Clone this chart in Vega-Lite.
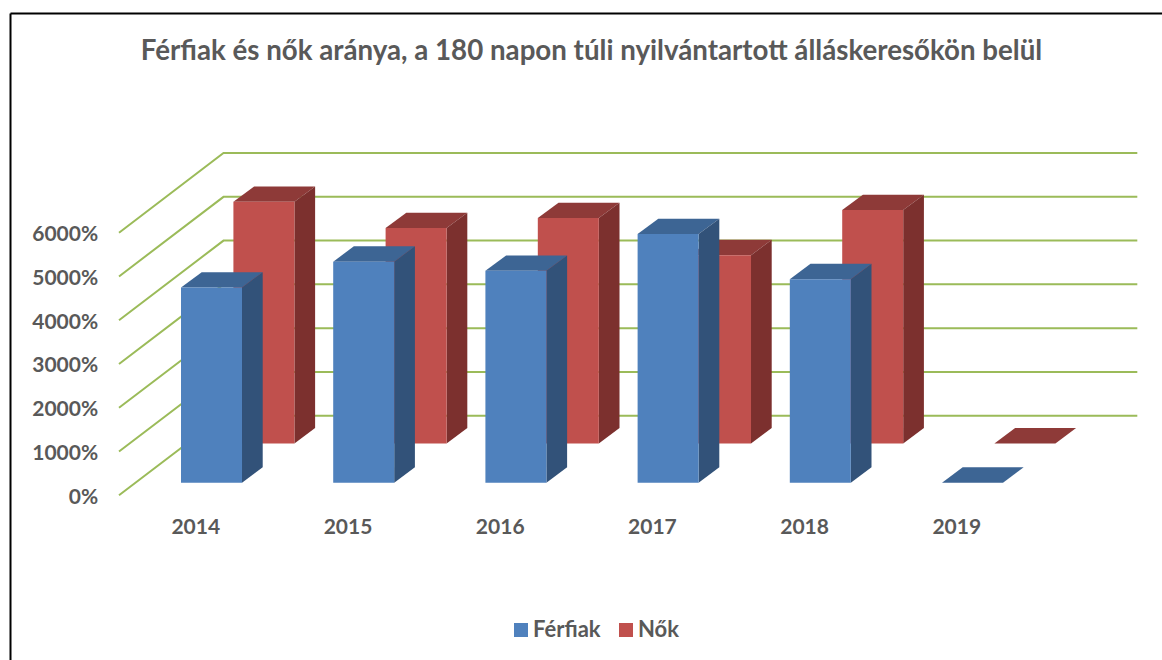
{
"$schema":"https://vega.github.io/schema/vega-lite/v6.json",
"width":1152,"height":647,
"autosize":{"type":"none"},
"padding":{"left":10,"top":13,"right":0,"bottom":0},
"background":"white",
"config":{"view":{"stroke":null},"font":"Lato"},
"title":{"text":"Férfiak és nők aránya, a 180 napon túli nyilvántartott álláskeresőkön belül","anchor":"middle","orient":"top","offset":-53,"dx":5.5,"font":"Lato","fontSize":27.7,"fontWeight":"bold","color":"#595959"},
"datasets":{
"bars":[
{"year":2014,"series":"Férfiak","value":4460},{"year":2015,"series":"Férfiak","value":5050},{"year":2016,"series":"Férfiak","value":4840},{"year":2017,"series":"Férfiak","value":5680},{"year":2018,"series":"Férfiak","value":4650},{"year":2019,"series":"Férfiak","value":0},
{"year":2014,"series":"Nők","value":5520},{"year":2015,"series":"Nők","value":4920},{"year":2016,"series":"Nők","value":5150},{"year":2017,"series":"Nők","value":4300},{"year":2018,"series":"Nők","value":5330},{"year":2019,"series":"Nők","value":0}
],
"grid":[{"level":0},{"level":1000},{"level":2000},{"level":3000},{"level":4000},{"level":5000},{"level":6000}]
},
"data":{"name":"bars"},
"transform":[
{"calculate":"datum.year+(datum.series==='Férfiak'?-0.1005:0.2438)","as":"x0"},
{"calculate":"datum.x0+0.4008","as":"x1"},
{"calculate":"datum.series==='Férfiak'?288:1186","as":"base"},
{"calculate":"datum.base+datum.value","as":"top"},
{"calculate":"datum.series+'-side'","as":"sideFace"},
{"calculate":"datum.series+'-top'","as":"topFace"}
],
"layer":[
{"data":{"name":"grid"},
 "transform":[{"calculate":"[0,1,2]","as":"k"},{"flatten":["k"]},
  {"calculate":"datum.k===0?2013.4921:(datum.k===1?2014.1787:2020.1827)","as":"gx"},
  {"calculate":"datum.level+(datum.k>0?1819:0)","as":"gy"}],
 "mark":{"type":"line","stroke":"#9BBB59","strokeWidth":2,"clip":false},
 "encoding":{
  "x":{"field":"gx","type":"quantitative","title":null,"scale":{"domain":[2012.77593,2020.34494],"nice":false,"zero":false},
   "axis":{"orient":"top","title":null,"values":[2014,2015,2016,2017,2018,2019],"format":"d","grid":false,"ticks":false,"domain":true,"domainColor":"#000000","domainWidth":2,"labelPadding":-514,"labelOffset":-1,"labelBaseline":"middle","labelFont":"Lato","labelFontSize":21,"labelFontWeight":"bold","labelColor":"#595959","labelOverlap":false,"labelFlush":false,"labelBound":false}},
  "y":{"field":"gy","type":"quantitative","title":null,"scale":{"domain":[-3763,11019],"nice":false,"zero":false},
   "axis":{"orient":"left","title":null,"values":[0,1000,2000,3000,4000,5000,6000],"labelExpr":"datum.value+'%'","grid":false,"ticks":false,"domain":true,"domainColor":"#000000","domainWidth":2,"labelPadding":-87.7,"labelOffset":2,"labelAlign":"right","labelBaseline":"middle","labelFont":"Lato","labelFontSize":21,"labelFontWeight":"bold","labelColor":"#595959","labelOverlap":false,"labelFlush":false,"labelBound":false}},
  "detail":{"field":"level"}
 }},
{"transform":[{"filter":"datum.series==='Nők'"},{"calculate":"[0,1,2,3]","as":"k"},{"flatten":["k"]},
  {"calculate":"datum.k===0?datum.x0:(datum.k===1?datum.x0+0.136:(datum.k===2?datum.x1:datum.x1+0.136))","as":"fx"},
  {"calculate":"datum.k===0?datum.top:datum.top+350","as":"fy"},
  {"calculate":"datum.k===3?datum.top+350:datum.top","as":"fy2"}],
 "mark":{"type":"area","orient":"vertical"},
 "encoding":{"x":{"field":"fx","type":"quantitative","title":null},"y":{"field":"fy","type":"quantitative","title":null},"y2":{"field":"fy2"},"detail":{"field":"year"},
  "fill":{"field":"topFace","type":"nominal","legend":null,"scale":{"domain":["Férfiak-side","Férfiak-top","Nők-side","Nők-top"],"range":["#325279","#3D6594","#7C302E","#8E3A38"]}}}},
{"transform":[{"filter":"datum.series==='Nők'"},{"calculate":"[0,1]","as":"k"},{"flatten":["k"]},
  {"calculate":"datum.x1+datum.k*0.136","as":"fx"},
  {"calculate":"datum.top+datum.k*350","as":"fy"},
  {"calculate":"datum.base+datum.k*350","as":"fy2"}],
 "mark":{"type":"area","orient":"vertical"},
 "encoding":{"x":{"field":"fx","type":"quantitative","title":null},"y":{"field":"fy","type":"quantitative","title":null},"y2":{"field":"fy2"},"detail":{"field":"year"},
  "fill":{"field":"sideFace","type":"nominal","legend":null}}},
{"transform":[{"filter":"datum.series==='Nők'"}],
 "mark":{"type":"rect"},
 "encoding":{"x":{"field":"x0","type":"quantitative","title":null},"x2":{"field":"x1"},"y":{"field":"top","type":"quantitative","title":null},"y2":{"field":"base"},
  "color":{"field":"series","type":"nominal","scale":{"domain":["Férfiak","Nők"],"range":["#4F81BD","#C0504D"]},
   "legend":{"orient":"none","legendX":500,"legendY":606,"direction":"horizontal","title":null,"padding":0,"symbolType":"square","symbolSize":196,"symbolStrokeWidth":0,"symbolOpacity":1,"labelFont":"Lato","labelFontSize":22,"labelFontWeight":"bold","labelColor":"#595959","labelOffset":1,"columnPadding":14}}}},
{"transform":[{"filter":"datum.series==='Férfiak'"},{"calculate":"[0,1,2,3]","as":"k"},{"flatten":["k"]},
  {"calculate":"datum.k===0?datum.x0:(datum.k===1?datum.x0+0.136:(datum.k===2?datum.x1:datum.x1+0.136))","as":"fx"},
  {"calculate":"datum.k===0?datum.top:datum.top+350","as":"fy"},
  {"calculate":"datum.k===3?datum.top+350:datum.top","as":"fy2"}],
 "mark":{"type":"area","orient":"vertical"},
 "encoding":{"x":{"field":"fx","type":"quantitative","title":null},"y":{"field":"fy","type":"quantitative","title":null},"y2":{"field":"fy2"},"detail":{"field":"year"},
  "fill":{"field":"topFace","type":"nominal","legend":null}}},
{"transform":[{"filter":"datum.series==='Férfiak'"},{"calculate":"[0,1]","as":"k"},{"flatten":["k"]},
  {"calculate":"datum.x1+datum.k*0.136","as":"fx"},
  {"calculate":"datum.top+datum.k*350","as":"fy"},
  {"calculate":"datum.base+datum.k*350","as":"fy2"}],
 "mark":{"type":"area","orient":"vertical"},
 "encoding":{"x":{"field":"fx","type":"quantitative","title":null},"y":{"field":"fy","type":"quantitative","title":null},"y2":{"field":"fy2"},"detail":{"field":"year"},
  "fill":{"field":"sideFace","type":"nominal","legend":null}}},
{"transform":[{"filter":"datum.series==='Férfiak'"}],
 "mark":{"type":"rect"},
 "encoding":{"x":{"field":"x0","type":"quantitative","title":null},"x2":{"field":"x1"},"y":{"field":"top","type":"quantitative","title":null},"y2":{"field":"base"},
  "color":{"field":"series","type":"nominal"}}}
]
}
